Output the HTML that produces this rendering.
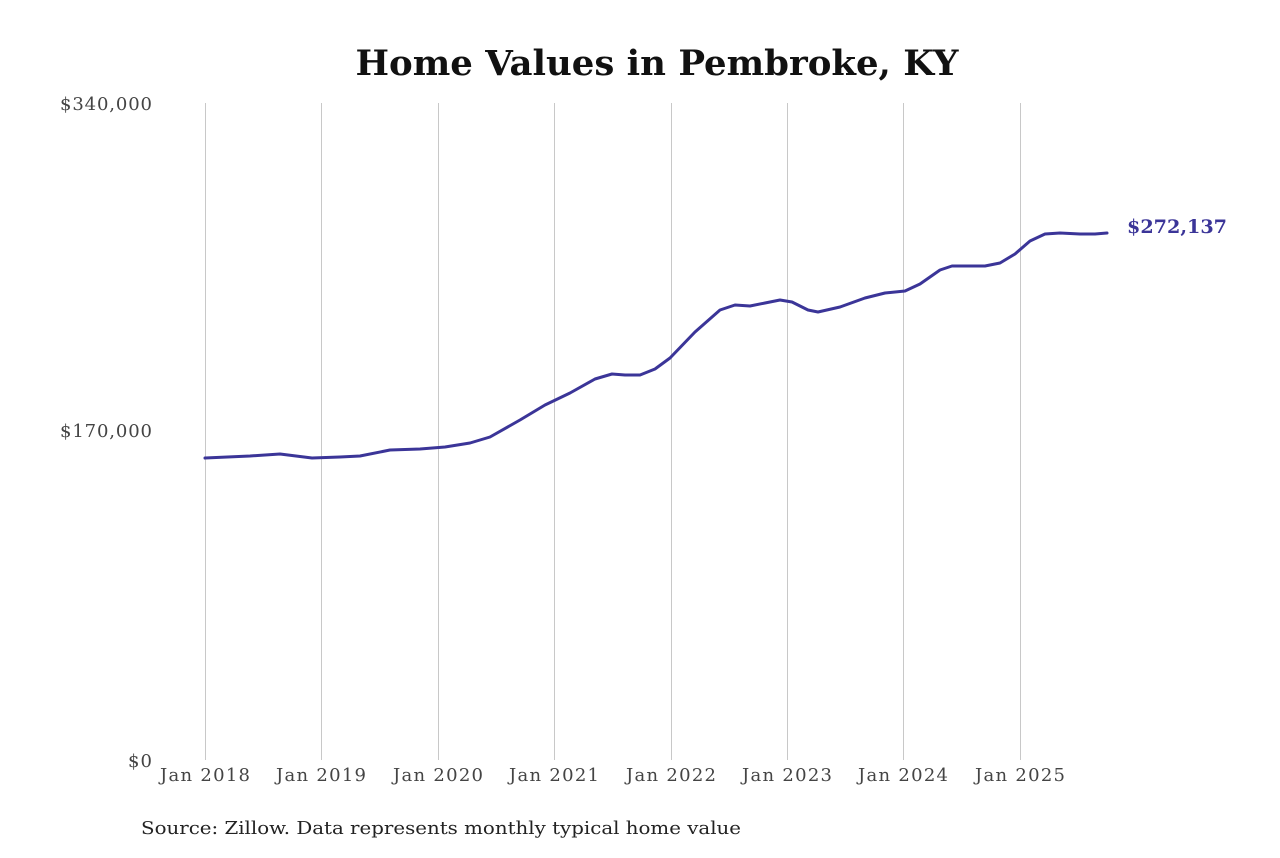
<!DOCTYPE html>
<html><head><meta charset="utf-8"><style>
html,body{margin:0;padding:0;background:#fff;}
</style></head><body>
<svg width="1280" height="853" xmlns="http://www.w3.org/2000/svg">
<rect width="1280" height="853" fill="#fff"/>
<text x="657" y="75" text-anchor="middle" font-family="'DejaVu Serif',serif" font-weight="bold" font-size="35" fill="#111" textLength="603" lengthAdjust="spacingAndGlyphs">Home Values in Pembroke, KY</text>
<g stroke="#c8c8c8" stroke-width="1">
<line x1="205.5" y1="103" x2="205.5" y2="760"/>
<line x1="321.5" y1="103" x2="321.5" y2="760"/>
<line x1="438.5" y1="103" x2="438.5" y2="760"/>
<line x1="554.5" y1="103" x2="554.5" y2="760"/>
<line x1="671.5" y1="103" x2="671.5" y2="760"/>
<line x1="787.5" y1="103" x2="787.5" y2="760"/>
<line x1="903.5" y1="103" x2="903.5" y2="760"/>
<line x1="1020.5" y1="103" x2="1020.5" y2="760"/>
</g>
<g font-family="'DejaVu Serif',serif" font-size="18" fill="#444" lengthAdjust="spacingAndGlyphs">
<text x="60" y="110" textLength="92">$340,000</text>
<text x="60" y="437" textLength="92">$170,000</text>
<text x="128" y="767" textLength="24">$0</text>
<text x="160" y="781" textLength="90">Jan 2018</text>
<text x="276" y="781" textLength="90">Jan 2019</text>
<text x="393" y="781" textLength="90">Jan 2020</text>
<text x="509" y="781" textLength="90">Jan 2021</text>
<text x="626" y="781" textLength="90">Jan 2022</text>
<text x="742" y="781" textLength="90">Jan 2023</text>
<text x="858" y="781" textLength="90">Jan 2024</text>
<text x="975" y="781" textLength="90">Jan 2025</text>
</g>
<polyline fill="none" stroke="#3b3598" stroke-width="3" stroke-linejoin="round" stroke-linecap="round" points="205,458 250,456 280,454 312,458 340,457 360,456 390,450 420,449 445,447 470,443 490,437 520,420 545,405 570,393 595,379 612,374 625,375 640,375 655,369 670,358 695,332 720,310 735,305 750,306 765,303 780,300 792,302 808,310 818,312 840,307 865,298 885,293 905,291 920,284 940,270 952,266 970,266 985,266 1000,263 1015,254 1030,241 1045,234 1060,233 1080,234 1095,234 1107,233"/>
<text x="1127" y="233" font-family="'DejaVu Serif',serif" font-weight="bold" font-size="19" fill="#3b3598" textLength="100" lengthAdjust="spacingAndGlyphs">$272,137</text>
<text x="141" y="834" font-family="'DejaVu Serif',serif" font-size="18" fill="#222" textLength="600" lengthAdjust="spacingAndGlyphs">Source: Zillow. Data represents monthly typical home value</text>
</svg>
</body></html>
